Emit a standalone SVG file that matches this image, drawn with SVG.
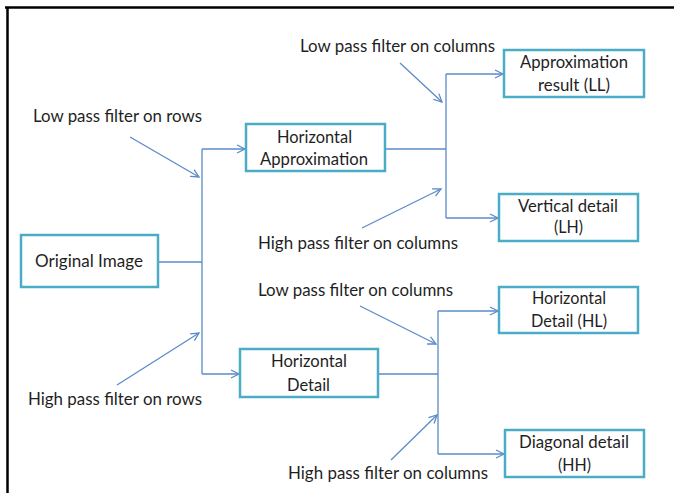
<svg xmlns="http://www.w3.org/2000/svg" width="674" height="493" viewBox="0 0 674 493">
  <style>
    .box { fill: #ffffff; stroke: #4bacc6; stroke-width: 2.5; }
    .txt { font-family: Lato, "Liberation Sans", sans-serif; font-size: 16.5px; fill: #1f1f1f; }
    .wire { fill: none; stroke: #5b8bc9; stroke-width: 1.3; }
    .frame { fill: none; stroke: #000000; stroke-width: 2.5; }
  </style>
  <defs>
    <marker id="arrow" markerUnits="userSpaceOnUse" markerWidth="12" markerHeight="12" refX="9" refY="5" orient="auto">
      <path d="M1,1 L9,5 L1,9" fill="none" stroke="#5b8bc9" stroke-width="1.3"/>
    </marker>
  </defs>

  <rect width="674" height="493" fill="#ffffff"/>

  <!-- page frame -->
  <path class="frame" d="M5,7.5 H674 M7.5,7 V493"/>

  <!-- connectors -->
  <g id="connectors">
    <!-- first stage: split along rows -->
    <path class="wire" d="M158,262 H202 M202,149 V374"/>
    <path class="wire" d="M202,149 H245" marker-end="url(#arrow)"/>
    <path class="wire" d="M202,374 H239" marker-end="url(#arrow)"/>
    <path class="wire" d="M130,137 L199,177" marker-end="url(#arrow)"/>
    <path class="wire" d="M117,385 L199,333" marker-end="url(#arrow)"/>

    <!-- second stage: approximation branch -->
    <path class="wire" d="M385,149 H446 M446,74 V218"/>
    <path class="wire" d="M446,74 H503" marker-end="url(#arrow)"/>
    <path class="wire" d="M446,218 H498" marker-end="url(#arrow)"/>
    <path class="wire" d="M400,63 L442,102" marker-end="url(#arrow)"/>
    <path class="wire" d="M362,228 L441,189" marker-end="url(#arrow)"/>

    <!-- second stage: detail branch -->
    <path class="wire" d="M377,374 H438 M438,311 V454"/>
    <path class="wire" d="M438,311 H498" marker-end="url(#arrow)"/>
    <path class="wire" d="M438,454 H504" marker-end="url(#arrow)"/>
    <path class="wire" d="M360,306 L436,344" marker-end="url(#arrow)"/>
    <path class="wire" d="M391,460 L437,415" marker-end="url(#arrow)"/>
  </g>

  <!-- filter labels -->
  <g id="labels">
    <text class="txt" x="33" y="122" textLength="169" lengthAdjust="spacingAndGlyphs">Low pass filter on rows</text>
    <text class="txt" x="28" y="405" textLength="174" lengthAdjust="spacingAndGlyphs">High pass filter on rows</text>
    <text class="txt" x="300" y="52" textLength="195" lengthAdjust="spacingAndGlyphs">Low pass filter on columns</text>
    <text class="txt" x="258" y="249" textLength="200" lengthAdjust="spacingAndGlyphs">High pass filter on columns</text>
    <text class="txt" x="258" y="296" textLength="195" lengthAdjust="spacingAndGlyphs">Low pass filter on columns</text>
    <text class="txt" x="288" y="479" textLength="200" lengthAdjust="spacingAndGlyphs">High pass filter on columns</text>
  </g>

  <g id="original-image">
    <rect class="box" x="21" y="235" width="137" height="52"/>
    <text class="txt" x="35" y="267" textLength="108" lengthAdjust="spacingAndGlyphs">Original Image</text>
  </g>

  <g id="horizontal-approximation">
    <rect class="box" x="246" y="124" width="139" height="47"/>
    <text class="txt" x="277" y="143" textLength="75" lengthAdjust="spacingAndGlyphs">Horizontal</text>
    <text class="txt" x="260" y="165" textLength="108" lengthAdjust="spacingAndGlyphs">Approximation</text>
  </g>

  <g id="horizontal-detail">
    <rect class="box" x="240" y="349" width="138" height="48"/>
    <text class="txt" x="271" y="367" textLength="76" lengthAdjust="spacingAndGlyphs">Horizontal</text>
    <text class="txt" x="287" y="391" textLength="43" lengthAdjust="spacingAndGlyphs">Detail</text>
  </g>

  <g id="approximation-ll">
    <rect class="box" x="504" y="50" width="140" height="47"/>
    <text class="txt" x="520" y="68" textLength="108" lengthAdjust="spacingAndGlyphs">Approximation</text>
    <text class="txt" x="538" y="91" textLength="72" lengthAdjust="spacingAndGlyphs">result (LL)</text>
  </g>

  <g id="vertical-lh">
    <rect class="box" x="499" y="194" width="139" height="47"/>
    <text class="txt" x="518" y="212" textLength="100" lengthAdjust="spacingAndGlyphs">Vertical detail</text>
    <text class="txt" x="554" y="233" textLength="29" lengthAdjust="spacingAndGlyphs">(LH)</text>
  </g>

  <g id="horizontal-hl">
    <rect class="box" x="499" y="287" width="139" height="46"/>
    <text class="txt" x="532" y="304" textLength="74" lengthAdjust="spacingAndGlyphs">Horizontal</text>
    <text class="txt" x="531" y="327" textLength="76" lengthAdjust="spacingAndGlyphs">Detail (HL)</text>
  </g>

  <g id="diagonal-hh">
    <rect class="box" x="505" y="430" width="139" height="47"/>
    <text class="txt" x="519" y="448" textLength="110" lengthAdjust="spacingAndGlyphs">Diagonal detail</text>
    <text class="txt" x="558" y="471" textLength="33" lengthAdjust="spacingAndGlyphs">(HH)</text>
  </g>
</svg>
